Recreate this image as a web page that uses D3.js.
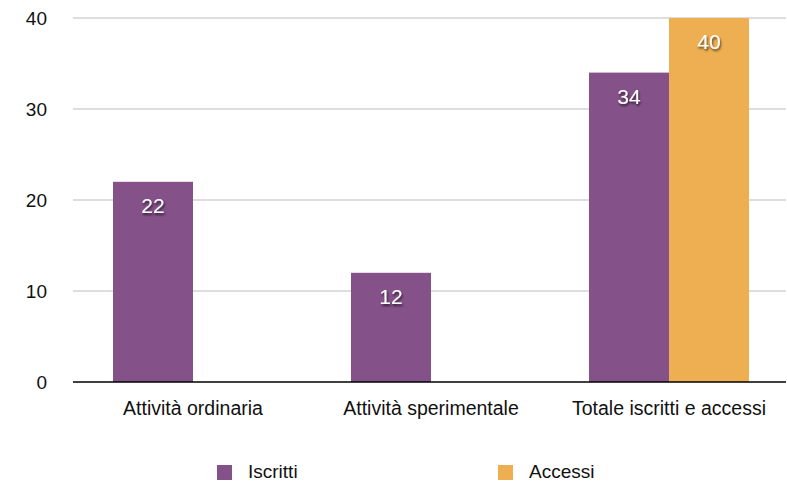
<!DOCTYPE html>
<html>
<head>
<meta charset="utf-8">
<script src="https://cdn.jsdelivr.net/npm/d3@7"></script>
<style>
  body { margin: 0; background: #fff; }
  text { font-family: "Liberation Sans", Arial, Helvetica, sans-serif; }
</style>
</head>
<body>
<svg width="787" height="481"></svg>
<script>
const categories = ['Attività ordinaria', 'Attività sperimentale', 'Totale iscritti e accessi'];
const seriesNames = ['Iscritti', 'Accessi'];
const iscritti = [22, 12, 34];
const accessi = [null, null, 40];
const yTicks = [0, 10, 20, 30, 40];

const colors = {Iscritti: '#845189', Accessi: '#eeae52'};

const margin = {left: 74, right: -1, top: 18, bottom: 99};
const width = 787, height = 481;
const innerW = width - margin.left - margin.right;
const innerH = height - margin.top - margin.bottom;

const svg = d3.select('svg');

const defs = svg.append('defs');
const f = defs.append('filter').attr('id', 'shadow')
  .attr('x', '-20%').attr('y', '-20%').attr('width', '150%').attr('height', '160%');
f.append('feDropShadow').attr('dx', 1).attr('dy', 2).attr('stdDeviation', 1.2)
  .attr('flood-color', '#000').attr('flood-opacity', 0.65);

const g = svg.append('g').attr('transform', `translate(${margin.left},${margin.top})`);

const x = d3.scaleBand().domain(categories).range([0, innerW]);
const x1 = d3.scaleBand().domain(seriesNames).range([x.bandwidth() / 2 - 80, x.bandwidth() / 2 + 80]);
const y = d3.scaleLinear().domain([0, 40]).range([innerH, 0]);
const lineEnd = 786 - margin.left;

// grid
g.selectAll('.grid').data(yTicks.filter(d => d > 0)).enter()
  .append('line')
  .attr('x1', -1).attr('x2', lineEnd)
  .attr('y1', d => y(d)).attr('y2', d => y(d))
  .attr('stroke', '#bdbdbd').attr('stroke-width', 1.2);

// y labels
g.selectAll('.ylab').data(yTicks).enter()
  .append('text')
  .attr('x', -27).attr('y', d => y(d) + 7)
  .attr('text-anchor', 'end')
  .style('font-size', '19px').style('fill', '#111')
  .text(d => d);

const rows = categories.map((c, i) => ({cat: c, values: [
  {key: 'Iscritti', v: iscritti[i]},
  {key: 'Accessi', v: accessi[i]}
].filter(d => d.v != null)}));

const grp = g.selectAll('.grp').data(rows).enter()
  .append('g').attr('transform', d => `translate(${x(d.cat)},0)`);

grp.selectAll('rect').data(d => d.values).enter()
  .append('rect')
  .attr('x', d => x1(d.key))
  .attr('width', x1.bandwidth())
  .attr('y', d => y(d.v))
  .attr('height', d => innerH - y(d.v))
  .attr('fill', d => colors[d.key]);

grp.selectAll('.vlab').data(d => d.values).enter()
  .append('text')
  .attr('x', d => x1(d.key) + x1.bandwidth() / 2)
  .attr('y', d => y(d.v) + 31)
  .attr('text-anchor', 'middle')
  .attr('filter', 'url(#shadow)')
  .style('font-size', '21px').style('fill', '#fff')
  .text(d => d.v);

// axis line
g.append('line')
  .attr('x1', -1).attr('x2', lineEnd)
  .attr('y1', innerH).attr('y2', innerH)
  .attr('stroke', '#000').attr('stroke-width', 1.5);

// category labels
g.selectAll('.xlab').data(categories).enter()
  .append('text')
  .attr('x', d => x(d) + x.bandwidth() / 2)
  .attr('y', innerH + 33)
  .attr('text-anchor', 'middle')
  .style('font-size', '19.5px').style('fill', '#111')
  .text(d => d);

// legend
const legX = [217, 498];
const leg = svg.selectAll('.leg').data(seriesNames).enter()
  .append('g').attr('transform', (d, i) => `translate(${legX[i]},465)`);
leg.append('rect').attr('width', 15).attr('height', 15).attr('fill', d => colors[d]);
leg.append('text').attr('x', 31).attr('y', 13)
  .style('font-size', '19px').style('fill', '#111')
  .text(d => d);
</script>
</body>
</html>
